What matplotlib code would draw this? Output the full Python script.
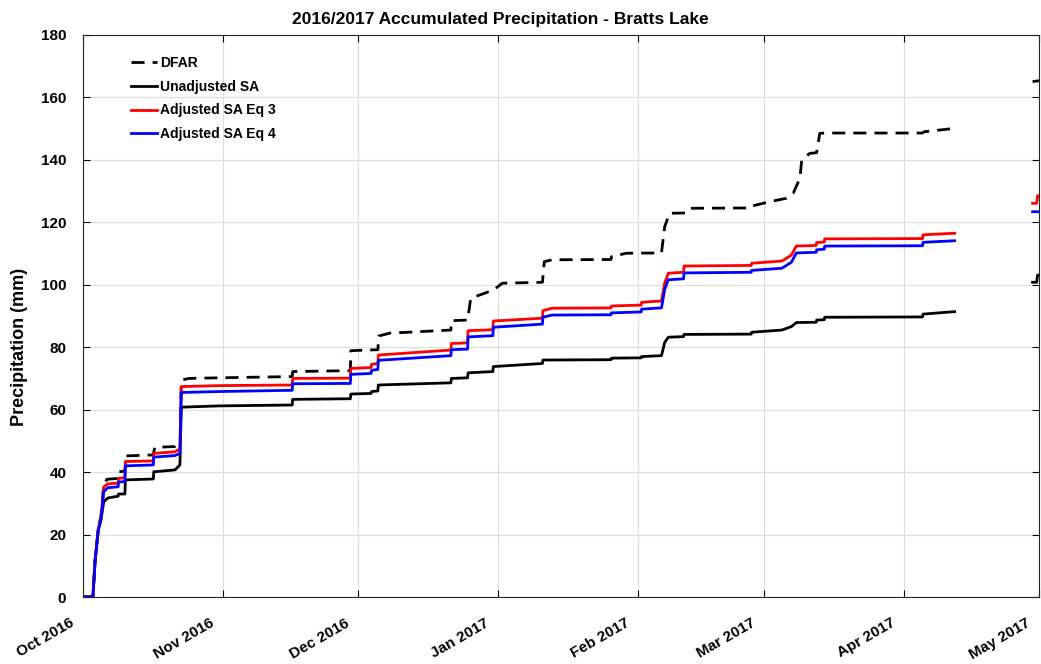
import matplotlib
matplotlib.use("Agg")
import matplotlib.pyplot as plt
import matplotlib.dates as mdates
import matplotlib.transforms as mtransforms
import numpy as np
import datetime as dt

nan = np.nan
start = dt.datetime(2016, 10, 1)

# days since 1 Oct 2016 / accumulated precip (mm)
unadj_days = [0, 2.2, 2.7, 3.4, 4.0, 4.6, 5.5, 7.8, 7.9, 9.3, 9.4, 15.6, 15.7, 20.4, 21.5, 21.8, 30, 46.4, 46.5,
              59.3, 59.4, 63.9, 64.0, 65.4, 65.5, 81.6, 81.7, 85.3, 85.4, 90.9, 91.0, 101.9, 102.0, 117.1, 117.2,
              123.8, 123.9, 128.3, 129.0, 129.8, 133.2, 133.3, 148.2, 148.3, 155, 157.1, 158.2, 162.6, 162.7,
              164.4, 164.5, 186.2, 186.3, 193.3, 200, 210.6, 211.5, 211.7, 213]
unadj_vals = [0, 0, 11.9, 21.5, 24.7, 30.5, 31.7, 32.3, 33.0, 33.0, 37.5, 37.8, 40.1, 40.7, 42.3, 60.8, 61.2, 61.5, 63.3,
              63.5, 65.0, 65.2, 65.8, 66.0, 67.9, 68.6, 70.0, 70.2, 71.8, 72.2, 73.8, 74.8, 75.9, 76.0, 76.5,
              76.6, 77.0, 77.3, 81.5, 83.2, 83.4, 84.1, 84.2, 84.8, 85.5, 86.6, 87.9, 88.0, 88.7,
              88.8, 89.6, 89.7, 90.6, 91.4, nan, 100.8, 100.8, 103.1, 103.1]

eq3_days = [0, 2.2, 2.7, 3.4, 4.0, 4.6, 5.5, 7.8, 7.9, 9.3, 9.4, 15.6, 15.7, 20.4, 21.5, 21.8, 30, 46.4, 46.5,
            59.3, 59.4, 63.9, 64.0, 65.4, 65.5, 81.6, 81.7, 85.3, 85.4, 90.9, 91.0, 101.9, 102.0, 104.0, 117.1, 117.2,
            123.8, 123.9, 128.3, 129.0, 129.8, 133.2, 133.3, 148.2, 148.3, 155, 157.1, 158.2, 162.6, 162.7,
            164.4, 164.5, 186.2, 186.3, 193.3, 200, 210.6, 211.5, 211.7, 213]
eq3_vals = [0, 0, 12.0, 22.0, 25.5, 35.3, 36.2, 36.5, 38.0, 38.2, 43.4, 43.6, 46.0, 46.5, 47.4, 67.4, 67.7, 67.9, 70.0,
            70.1, 73.2, 73.5, 74.5, 74.8, 77.5, 79.1, 81.2, 81.4, 85.3, 85.6, 88.4, 89.3, 91.7, 92.5, 92.6, 93.2,
            93.5, 94.4, 94.8, 100.5, 103.7, 104.0, 106.0, 106.2, 106.9, 107.6, 109.5, 112.4, 112.6, 113.5,
            113.7, 114.7, 114.8, 116.0, 116.5, nan, 126.1, 126.1, 128.5, 128.5]

eq4_days = [0, 2.2, 2.7, 3.4, 4.0, 4.6, 5.5, 7.8, 7.9, 9.3, 9.4, 15.6, 15.7, 20.4, 21.5, 21.8, 30, 46.4, 46.5,
            59.3, 59.4, 63.9, 64.0, 65.4, 65.5, 81.6, 81.7, 85.3, 85.4, 90.9, 91.0, 101.9, 102.0, 104.0, 117.1, 117.2,
            123.8, 123.9, 128.3, 129.0, 129.8, 133.2, 133.3, 148.2, 148.3, 155, 157.1, 158.2, 162.6, 162.7,
            164.4, 164.5, 186.2, 186.3, 193.3, 200, 210.6, 213]
eq4_vals = [0, 0, 11.5, 21.5, 25.0, 33.7, 35.0, 35.3, 36.8, 37.0, 42.0, 42.3, 44.8, 45.3, 46.0, 65.5, 65.8, 66.2, 68.3,
            68.4, 71.3, 71.6, 72.6, 72.9, 75.8, 77.3, 79.2, 79.4, 83.3, 83.7, 86.4, 87.4, 89.6, 90.3, 90.4, 91.0,
            91.3, 92.2, 92.6, 98.5, 101.6, 101.9, 103.8, 104.0, 104.6, 105.3, 107.2, 110.2, 110.4, 111.2,
            111.4, 112.4, 112.5, 113.6, 114.1, nan, 123.4, 123.4]

dfar_days = [0, 2.2, 2.7, 3.4, 4.0, 4.6, 5.3, 7.8, 7.9, 9.3, 9.6, 15.6, 15.9, 20.4, 20.9, 21.6, 21.8, 23.5, 30, 46.4,
             46.5, 59.3, 59.4, 65.4, 65.6, 68, 81.6, 81.7, 85.3, 86, 91, 93, 101.9, 102.3, 104, 117.1, 117.2, 120.5,
             128.3, 129.0, 130.1, 133.7, 134.6, 148.0, 148.3, 152.3, 156, 157.5, 159.0, 159.4, 161.2, 162.7, 163.4,
             164.5, 186.2, 186.5, 193.3, 200, 210.6, 213]
dfar_vals = [0, 0, 12, 22, 26, 35.9, 37.7, 38.0, 40.1, 40.3, 45.2, 45.5, 47.9, 48.2, 49.4, 49.6, 69.5, 70.0, 70.2, 70.6,
             72.2, 72.5, 78.9, 79.2, 83.6, 84.5, 85.5, 88.5, 88.7, 95.7, 98.3, 100.5, 100.8, 107.4, 108.0, 108.1, 109.0, 110.1,
             110.2, 118.6, 122.9, 123.0, 124.5, 124.6, 125.2, 126.6, 127.7, 129.3, 134.1, 140.0, 142.1, 142.3, 148.5,
             148.6, 148.6, 149.0, 150.1, nan, 165.1, 165.5]


def to_dates(days):
    return [start + dt.timedelta(days=d) for d in days]


plt.rcParams['font.family'] = ['Liberation Sans', 'DejaVu Sans']
plt.rcParams['font.weight'] = 'bold'

fig = plt.figure(figsize=(10.41, 6.64), dpi=100)
ax = fig.add_axes([0.0797, 0.1009, 0.9183, 0.8464])

ax.plot(to_dates(dfar_days), dfar_vals, color='k', lw=2, ls=(0, (4.7, 2.9)), label='DFAR')
ax.plot(to_dates(unadj_days), unadj_vals, color='k', lw=2, label='Unadjusted SA')
ax.plot(to_dates(eq3_days), eq3_vals, color='red', lw=2, label='Adjusted SA Eq 3')
ax.plot(to_dates(eq4_days), eq4_vals, color='blue', lw=2, label='Adjusted SA Eq 4')

ax.set_xlim(dt.datetime(2016, 10, 1), dt.datetime(2017, 5, 1))
ax.set_ylim(0, 180)
ax.set_yticks(np.arange(0, 181, 20))
ax.xaxis.set_major_locator(mdates.MonthLocator())
ax.xaxis.set_major_formatter(mdates.DateFormatter('%b %Y'))

ax.tick_params(direction='in', top=True, right=True, labelsize=11, length=5, width=0.8)
ax.tick_params(axis='y', pad=12)
ax.tick_params(axis='x', pad=0)
ax.grid(True, color='#dddddd', lw=0.8)
ax.set_axisbelow(True)
for s in ax.spines.values():
    s.set_color('#262626')
    s.set_linewidth(0.8)

# rotated month labels, shifted down/left like the original
shift = mtransforms.ScaledTranslation(-0.13, -0.19, fig.dpi_scale_trans)
fig.canvas.draw()
for t in ax.xaxis.get_major_ticks():
    lab = t.label1
    lab.set_rotation(30)
    lab.set_ha('right')
    lab.set_va('top')
    lab.set_rotation_mode('anchor')
    lab.set_fontweight('bold')
    lab.set_transform(lab.get_transform() + shift)

ax.set_ylabel('Precipitation (mm)', fontsize=13, fontweight='bold')
ax.yaxis.set_label_coords(-0.0575, 0.445)
ax.set_title('2016/2017 Accumulated Precipitation - Bratts Lake', fontsize=12.5, fontweight='bold',
             pad=8, x=0.437)

leg = ax.legend(loc='upper left', bbox_to_anchor=(0.037, 0.985), frameon=False, fontsize=10,
                handlelength=1.9, handletextpad=0.2, labelspacing=0.7)
for t in leg.get_texts():
    t.set_fontweight('bold')

fig.savefig('out.png', dpi=100)
